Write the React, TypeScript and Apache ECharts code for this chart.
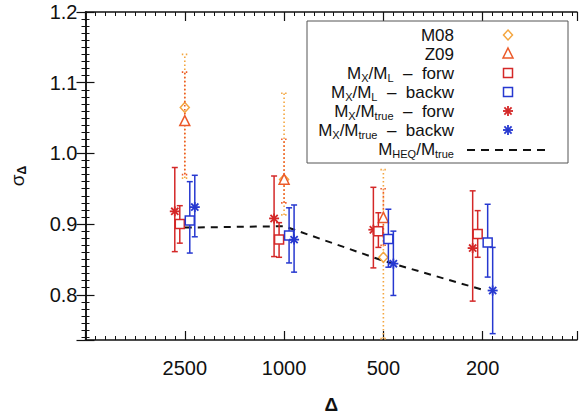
import React, { useEffect, useRef } from "react";
import * as echarts from "echarts";

const categories = ["2500", "1000", "500", "200"];
const categoryPos = [1, 2, 3, 4];

// rows: [category position, value, lower end, upper end]
const m08 = [
  [1, 1.065, 0.965, 1.14],
  [2, 0.963, 0.913, 1.085],
  [3, 0.853, 0.738, 0.977],
];
const z09 = [
  [1, 1.045, 0.97, 1.115],
  [2, 0.962, 0.93, 1.02],
  [3, 0.908, 0.87, 0.95],
];
const forwL = [
  [1, 0.9, 0.873, 0.926],
  [2, 0.878, 0.853, 0.902],
  [3, 0.89, 0.867, 0.916],
  [4, 0.886, 0.853, 0.919],
];
const backwL = [
  [1, 0.905, 0.859, 0.96],
  [2, 0.884, 0.845, 0.923],
  [3, 0.879, 0.839, 0.921],
  [4, 0.874, 0.825, 0.928],
];
const forwT = [
  [1, 0.918, 0.861, 0.98],
  [2, 0.908, 0.854, 0.968],
  [3, 0.892, 0.838, 0.952],
  [4, 0.866, 0.791, 0.947],
];
const backwT = [
  [1, 0.924, 0.882, 0.969],
  [2, 0.878, 0.832, 0.927],
  [3, 0.844, 0.799, 0.89],
  [4, 0.806, 0.745, 0.867],
];
const heq = [
  [1, 0.895],
  [2, 0.897],
  [3, 0.848],
  [4, 0.807],
];

const RED = "#d42828";
const BLUE = "#2638d0";
const ORANGE = "#f4a640";
const REDORANGE = "#ec5a2a";
const FONT = "Liberation Sans";

function marker(kind: string, x: number, y: number, color: string, z?: number): any {
  const st = { stroke: color, lineWidth: 1.5 };
  const zz = z === undefined ? {} : { z };
  if (kind === "square") {
    return { type: "rect", ...zz, shape: { x: x - 4.5, y: y - 4.5, width: 9, height: 9 }, style: { ...st, fill: "#fff" } };
  }
  if (kind === "diamond") {
    return { type: "polygon", ...zz, shape: { points: [[x, y - 5], [x + 4.5, y], [x, y + 5], [x - 4.5, y]] }, style: { ...st, fill: "#fff" } };
  }
  if (kind === "triangle") {
    return { type: "polygon", ...zz, shape: { points: [[x, y - 6], [x + 5, y + 4], [x - 5, y + 4]] }, style: { ...st, fill: "#fff" } };
  }
  const r = 5;
  const d = 3.6;
  const ls = { stroke: color, lineWidth: 1.8 };
  return {
    type: "group",
    ...zz,
    children: [
      { type: "line", ...zz, shape: { x1: x - r, y1: y, x2: x + r, y2: y }, style: ls },
      { type: "line", ...zz, shape: { x1: x, y1: y - r, x2: x, y2: y + r }, style: ls },
      { type: "line", ...zz, shape: { x1: x - d, y1: y - d, x2: x + d, y2: y + d }, style: ls },
      { type: "line", ...zz, shape: { x1: x - d, y1: y + d, x2: x + d, y2: y - d }, style: ls },
    ],
  };
}

function errSeries(name: string, data: number[][], dx: number, color: string, kind: string, dotted: boolean, z: number) {
  return {
    type: "custom",
    name,
    data,
    z,
    clip: false,
    encode: { x: 0, y: [1, 2, 3] },
    renderItem: (params: any, api: any) => {
      const xv = api.value(0);
      const c = api.coord([xv, api.value(1)]);
      const lo = api.coord([xv, api.value(2)]);
      const hi = api.coord([xv, api.value(3)]);
      const x = c[0] + dx;
      const ls: any = { stroke: color, lineWidth: dotted ? 1.6 : 1.5 };
      if (dotted) ls.lineDash = [1.5, 2.5];
      const cap = 3;
      return {
        type: "group",
        children: [
          { type: "line", shape: { x1: x, y1: lo[1], x2: x, y2: hi[1] }, style: ls },
          { type: "line", shape: { x1: x - cap, y1: lo[1], x2: x + cap, y2: lo[1] }, style: ls },
          { type: "line", shape: { x1: x - cap, y1: hi[1], x2: x + cap, y2: hi[1] }, style: ls },
          marker(kind, x, c[1], color),
        ],
      };
    },
  };
}

export default function App() {
  const ref = useRef<HTMLDivElement>(null);
  useEffect(() => {
    document.body.style.margin = "0";
    const chart = echarts.init(ref.current!, null, { renderer: "svg" });
    const axisLine = { show: true, lineStyle: { color: "#111", width: 1.5 } };
    const xBase = {
      type: "value",
      min: 0,
      max: 4.95,
      interval: 1,
      axisLine,
      splitLine: { show: false },
      axisTick: { show: true, inside: true, length: 9, lineStyle: { color: "#111", width: 1.2 } },
      minorTick: { show: true, splitNumber: 10, length: 4, lineStyle: { color: "#111", width: 1 } },
    };
    const yBase = {
      type: "value",
      min: 0.736,
      max: 1.2,
      splitNumber: 5,
      axisLine,
      splitLine: { show: false },
      axisTick: { show: true, inside: true, length: 9, lineStyle: { color: "#111", width: 1.2 } },
      minorTick: { show: true, splitNumber: 10, length: 4, lineStyle: { color: "#111", width: 1 } },
    };
    const legendRows = [
      { t: "M08", k: "diamond", c: ORANGE },
      { t: "Z09", k: "triangle", c: REDORANGE },
      { t: "M{s|X}/M{s|L}  –  forw", k: "square", c: RED },
      { t: "M{s|X}/M{s|L}  –  backw", k: "square", c: BLUE },
      { t: "M{s|X}/M{s|true}  –  forw", k: "star", c: RED },
      { t: "M{s|X}/M{s|true}  –  backw", k: "star", c: BLUE },
      { t: "M{s|HEQ}/M{s|true}", k: "dash", c: "#111" },
    ];
    const legendEls: any[] = [
      { type: "rect", shape: { x: 307, y: 21, width: 261, height: 142 }, style: { fill: "#fff", stroke: "#555", lineWidth: 1 }, z: 10 },
    ];
    legendRows.forEach((r, i) => {
      const y = 35 + i * 19;
      legendEls.push({
        type: "text",
        x: 454,
        y,
        z: 11,
        style: {
          text: r.t,
          align: "right",
          verticalAlign: "middle",
          fontFamily: FONT,
          fontSize: 17,
          fill: "#111",
          rich: { s: { fontSize: 11, fontFamily: FONT, fill: "#111", padding: [10, 0, 0, 0] } },
        },
      });
      if (r.k === "dash") {
        legendEls.push({ type: "line", z: 11, shape: { x1: 467, y1: y + 1, x2: 549, y2: y + 1 }, style: { stroke: "#111", lineWidth: 2, lineDash: [8, 6] } });
      } else {
        legendEls.push(marker(r.k, 508, y, r.c, 11));
      }
    });

    chart.setOption({
      animation: false,
      backgroundColor: "#fff",
      grid: { left: 82, right: 11, top: 12, bottom: 67 },
      xAxis: [
        {
          ...xBase,
          position: "bottom",
          name: "Δ",
          nameLocation: "middle",
          nameGap: 55,
          nameTextStyle: { fontFamily: FONT, fontSize: 19, fontWeight: "bold", color: "#111" },
          axisLabel: {
            margin: 18,
            fontFamily: FONT,
            fontSize: 20,
            color: "#111",
            formatter: (v: number) => {
              const i = categoryPos.indexOf(v);
              return i >= 0 ? categories[i] : "";
            },
          },
        },
        { ...xBase, position: "top", axisLabel: { show: false } },
      ],
      yAxis: [
        {
          ...yBase,
          position: "left",
          name: "σ{s|Δ}",
          nameLocation: "middle",
          nameRotate: 90,
          nameGap: 58,
          nameTextStyle: {
            fontFamily: FONT,
            fontSize: 19,
            color: "#111",
            rich: { s: { fontFamily: FONT, fontSize: 12, fontWeight: "bold", color: "#111", padding: [8, 0, 0, 0] } },
          },
          axisLabel: {
            margin: 8,
            fontFamily: FONT,
            fontSize: 20,
            color: "#111",
            formatter: (v: number) => (Math.abs(v * 10 - Math.round(v * 10)) < 1e-6 ? v.toFixed(1) : ""),
          },
        },
        { ...yBase, position: "right", axisLabel: { show: false } },
      ],
      series: [
        {
          type: "line",
          name: "MHEQ/Mtrue",
          data: heq,
          symbol: "none",
          z: 1,
          lineStyle: { color: "#111", width: 2, type: [7, 6] },
        },
        errSeries("M08", m08, 0, ORANGE, "diamond", true, 3),
        errSeries("Z09", z09, 0, REDORANGE, "triangle", true, 3),
        errSeries("forwT", forwT, -10, RED, "star", false, 4),
        errSeries("forwL", forwL, -5, RED, "square", false, 4),
        errSeries("backwL", backwL, 5, BLUE, "square", false, 4),
        errSeries("backwT", backwT, 10, BLUE, "star", false, 4),
      ],
      graphic: legendEls,
    });
    return () => chart.dispose();
  }, []);
  return <div ref={ref} style={{ position: "absolute", left: 0, top: 0, width: 588, height: 419 }} />;
}
